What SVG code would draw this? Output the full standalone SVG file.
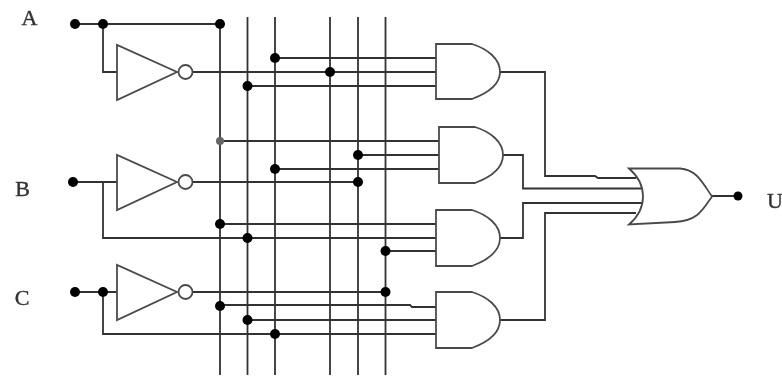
<svg xmlns="http://www.w3.org/2000/svg" width="782" height="376" viewBox="0 0 782 376">
<style>
.w{fill:none;stroke:#333;stroke-width:1.8}
.g{fill:#fff;stroke:#4a4a4a;stroke-width:1.8}
.d{fill:#000}
text{font-family:"Liberation Serif","Times New Roman",serif;font-size:22px;fill:#333;stroke:#333;stroke-width:.4;text-anchor:middle}
</style>
<defs>
<filter id="b" x="0" y="0" width="1" height="1"><feGaussianBlur stdDeviation="0.7"/></filter>
</defs>
<rect width="782" height="376" fill="#fff"/>
<g filter="url(#b)">
<rect width="782" height="376" fill="#fff"/>
<g id="connectors">
<path class="w" d="M220 24V375M247.500 17V375M275 17V375M330 17V375M358 17V375M385.500 17V375"/>
<path class="w" d="M75 24H220M103 24V72H117M193 72H436M275 58H436M247.500 86H436"/>
<path class="w" d="M220 141H439M358 155H439M275 169H439"/>
<path class="w" d="M73 182H117M193 182H358M103 182V238H436M220 224H436M385.500 251H436"/>
<path class="w" d="M75 292H117M193 292H385.500M103 292V334H436M220 305H410L412 307H436M247.500 320H436"/>
<path class="w" d="M500 72H545V176H595L598 178H636M503 155H523V188.500H642M500 238H523V203H642M500 320H545V213H636M712 196H738"/>
<g class="d">
<circle cx="75" cy="24" r="5"/><circle cx="103" cy="24" r="5"/><circle cx="220" cy="24" r="5"/>
<circle cx="275" cy="58" r="5"/><circle cx="330" cy="72" r="5"/><circle cx="247.500" cy="86" r="5"/>
<circle cx="220" cy="141" r="4" fill="#666"/><circle cx="358" cy="155" r="5"/><circle cx="275" cy="169" r="5"/><circle cx="358" cy="182" r="5"/>
<circle cx="73" cy="182" r="5"/><circle cx="220" cy="224" r="5"/><circle cx="247.500" cy="238" r="5"/><circle cx="385.500" cy="251" r="5"/>
<circle cx="75" cy="292" r="5"/><circle cx="103" cy="292" r="5"/><circle cx="385.500" cy="292" r="5"/>
<circle cx="220" cy="306" r="5"/><circle cx="247.500" cy="320" r="5"/><circle cx="275" cy="334" r="5"/>
<circle cx="738" cy="196" r="4.500"/>
</g>
</g>
<g id="not-a"><path class="g" d="M117 45V100L177 72Z"/><circle class="g" cx="185.500" cy="72" r="7"/></g>
<g id="not-b"><path class="g" d="M117 155V210L177 182Z"/><circle class="g" cx="185.500" cy="182" r="7"/></g>
<g id="not-c"><path class="g" d="M117 265V320L177 292Z"/><circle class="g" cx="185.500" cy="292" r="7"/></g>
<g id="and-1"><path class="g" d="M436 44H472C488 49 500 59 500 72C500 85 488 93 472 99H436Z"/></g>
<g id="and-2"><path class="g" d="M439 127H475C491 132 503 142 503 155C503 168 491 177 475 183H439Z"/></g>
<g id="and-3"><path class="g" d="M436 210H472C488 215 500 225 500 238C500 251 488 260 472 266H436Z"/></g>
<g id="and-4"><path class="g" d="M436 292H472C488 297 500 307 500 320C500 333 488 342 472 348H436Z"/></g>
<g id="or"><path class="g" d="M629 168.500H680C697 170 702 182 712 196.500C702 211 697 221 675 222L629 224.500C639 216 643 207 643 196.500C643 186 639 177 629 168.500Z"/></g>
<g id="labels">
<text x="29.500" y="25">A</text>
<text x="22.500" y="196">B</text>
<text x="22" y="305">C</text>
<text x="775" y="208">U</text>
</g>
</g>
</svg>
